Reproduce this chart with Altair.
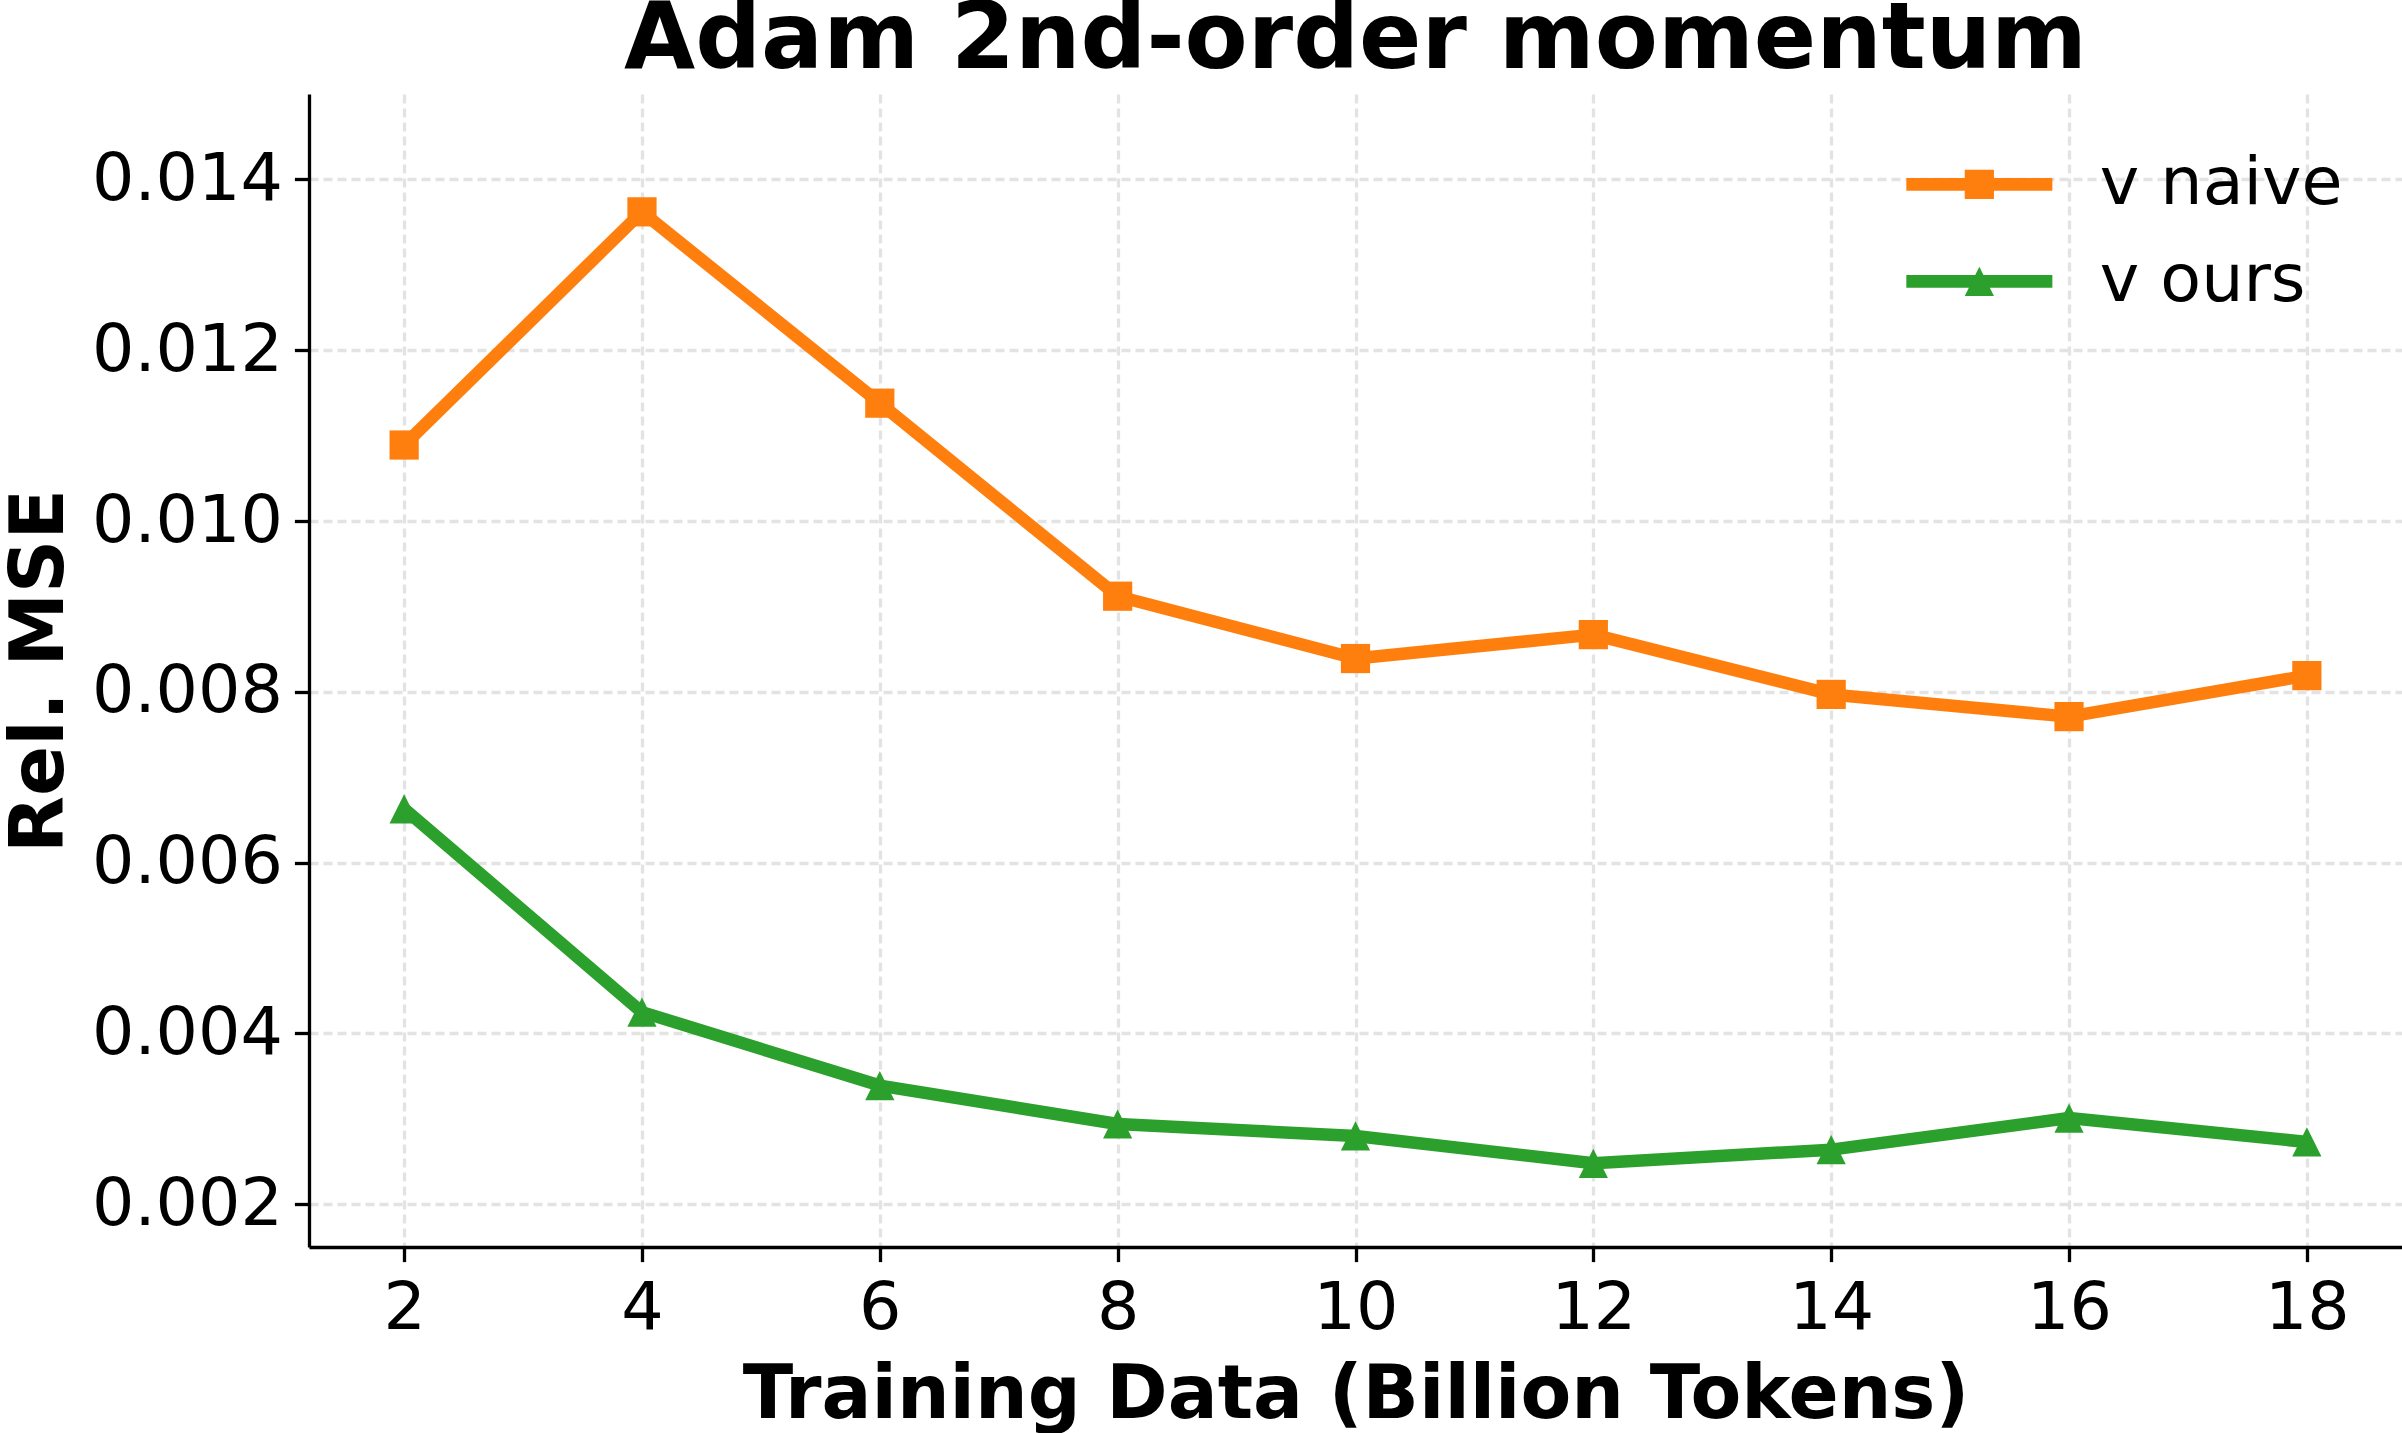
import altair as alt
import pandas as pd

# ---- data ----
x_tokens = [2, 4, 6, 8, 10, 12, 14, 16, 18]
v_naive = [0.01089, 0.01362, 0.01138, 0.00912, 0.00839, 0.00867, 0.00797, 0.00771, 0.00819]
v_ours = [0.00663, 0.00425, 0.00339, 0.00294, 0.00280, 0.00248, 0.00264, 0.00301, 0.00273]
series_names = ["v naive", "v ours"]
x_ticks = [2, 4, 6, 8, 10, 12, 14, 16, 18]
y_ticks = [0.002, 0.004, 0.006, 0.008, 0.010, 0.012, 0.014]

rows = []
for name, vals in zip(series_names, [v_naive, v_ours]):
    for x, v in zip(x_tokens, vals):
        rows.append({"tokens": x, "mse": v, "series": name})
df = pd.DataFrame(rows)

# ---- styles ----
FONT = "DejaVu Sans"
colors = ["#ff7f0e", "#2ca02c"]
W, H = 2093, 1153
MARKER = 853
TRI = "M0,-1L1,1H-1Z"
LEG_SQ = "M-5,-0.43H5V0.43H-5Z M-1,-1H1V1H-1Z"
LEG_TRI = "M-5,-0.43H5V0.43H-5Z M0,-1L1,1H-1Z"

x_enc = alt.X(
    "tokens:Q",
    scale=alt.Scale(domain=[1.2, 18.8], nice=False, zero=False),
    axis=alt.Axis(
        values=x_ticks, format="d", labelFont=FONT, labelFontSize=66.7, labelColor="black",
        labelPadding=14, labelFlush=False, labelOverlap=False, labelLimit=0,
        tickSize=14.6, tickWidth=3.3, tickColor="black",
        domainColor="black", domainWidth=3.3,
        grid=True, gridDash=[9, 5], gridColor="#e3e3e3", gridWidth=3.3,
        title="Training Data (Billion Tokens)", titleFont=FONT, titleFontSize=74,
        titleFontWeight="bold", titleColor="black", titleX=W / 2, titleY=170,
        titleBaseline="alphabetic", titleAlign="center", titleAngle=0, titleLimit=0,
    ),
)
y_enc = alt.Y(
    "mse:Q",
    scale=alt.Scale(domain=[0.0015, 0.015], nice=False, zero=False),
    axis=alt.Axis(
        values=y_ticks, format=".3f", labelFont=FONT, labelFontSize=66.7, labelColor="black",
        labelPadding=12, labelFlush=False, labelOverlap=False, labelLimit=0,
        tickSize=14.6, tickWidth=3.3, tickColor="black",
        domainColor="black", domainWidth=3.3,
        grid=True, gridDash=[9, 5], gridColor="#e3e3e3", gridWidth=3.3,
        title="Rel. MSE", titleFont=FONT, titleFontSize=74, titleFontWeight="bold",
        titleColor="black", titleX=-247, titleY=H / 2, titleBaseline="alphabetic",
        titleAlign="center", titleAngle=270, titleLimit=0,
    ),
)
# data-driven domain (sorted: "v naive", "v ours") so it stays apart from the legend scales
color_scale = alt.Scale(range=colors)

base = alt.Chart(df)

lines = base.mark_line(strokeWidth=12.5, strokeJoin="round").encode(
    x=x_enc, y=y_enc, color=alt.Color("series:N", scale=color_scale, legend=None), detail="series:N"
)
squares = base.transform_filter(alt.datum.series == series_names[0]).mark_point(
    shape="square", filled=True, size=MARKER, opacity=1, strokeWidth=0
).encode(x=x_enc, y=y_enc, color=alt.Color("series:N", scale=color_scale, legend=None))
triangles = base.transform_filter(alt.datum.series == series_names[1]).mark_point(
    shape=TRI, filled=True, size=MARKER, opacity=1, strokeWidth=0
).encode(x=x_enc, y=y_enc, color=alt.Color("series:N", scale=color_scale, legend=None))

leg_params = dict(
    orient="none", legendX=1637, legendY=57, title=None, padding=0,
    labelFont=FONT, labelFontSize=66.7, labelColor="black", labelOffset=87, labelLimit=0,
    symbolSize=MARKER, symbolStrokeWidth=0, symbolOpacity=1, rowPadding=29,
)
legend_layer = base.transform_filter("false").mark_point(filled=True, opacity=1).encode(
    fill=alt.Fill("series:N", scale=alt.Scale(domain=series_names, range=colors),
                  legend=alt.Legend(**leg_params)),
    shape=alt.Shape("series:N", scale=alt.Scale(domain=series_names, range=[LEG_SQ, LEG_TRI]),
                    legend=alt.Legend(**leg_params)),
)

chart = alt.layer(lines, squares, triangles, legend_layer).properties(
    width=W, height=H,
    title=alt.TitleParams(
        "Adam 2nd-order momentum", font=FONT, fontSize=92, fontWeight="bold", color="black",
        anchor="middle", frame="group", baseline="alphabetic", offset=26, dy=92, limit=0,
    ),
    autosize=alt.AutoSizeParams(type="none"),
    padding={"left": 309, "top": 94, "right": 0, "bottom": 186},
    background="white",
).configure_view(stroke=None)

chart.save("out.html", embed_options={"renderer": "svg", "actions": False})
